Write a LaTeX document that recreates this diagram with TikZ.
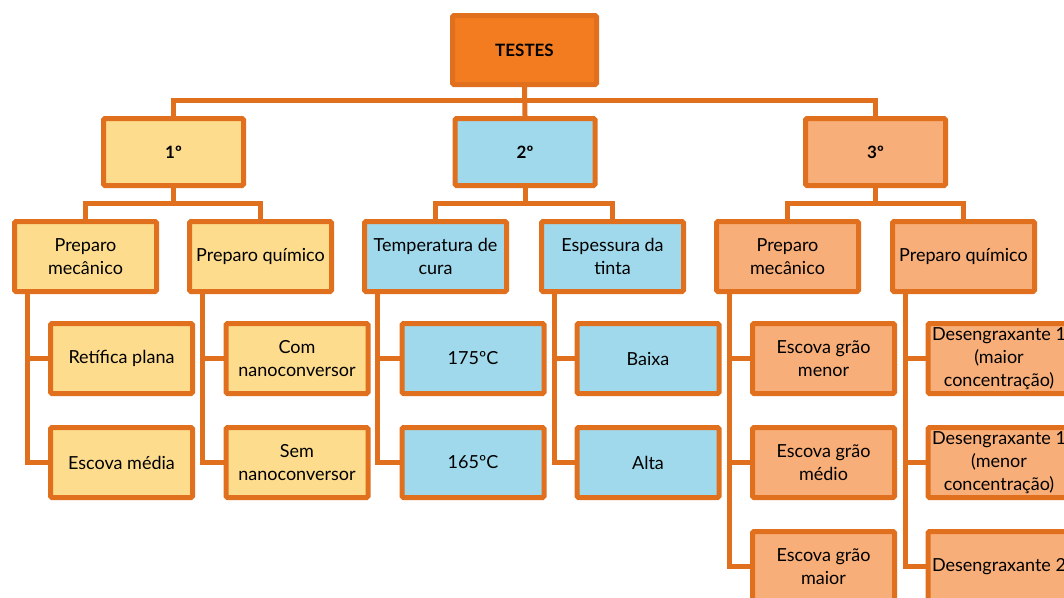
\documentclass[tikz,border=0pt]{standalone}
\usepackage{fontspec}
\setmainfont{Lato}
\usepackage{tikz}
\usetikzlibrary{positioning, calc}
\definecolor{lineOrange}{HTML}{E0701E}
\definecolor{rootOrange}{HTML}{F47C20}
\definecolor{paleYellow}{HTML}{FDDC8E}
\definecolor{paleBlue}{HTML}{A0D9EC}
\definecolor{paleSalmon}{HTML}{F8AE78}
\tikzset{
    box/.style={rectangle, draw=lineOrange, line width=5pt, rounded corners=1.5pt, align=center, inner sep=0pt, font=\fontsize{18}{23}\selectfont},
    rootbox/.style={box, fill=rootOrange, minimum width=144pt, minimum height=69pt, font=\fontsize{17}{23}\selectfont\bfseries},
    stage/.style={box, minimum width=140pt, minimum height=67pt, font=\fontsize{17}{23}\selectfont\bfseries},
    group/.style={box, minimum width=142pt, minimum height=70pt},
    leaf/.style={box, minimum width=142pt, minimum height=70pt},
    link/.style={draw=lineOrange, line width=5pt}
}
\begin{document}
\begin{tikzpicture}[x=1pt, y=-1pt]
        \useasboundingbox (0,0) rectangle (1064,597);

        \node[rootbox] (Testes) at (524.5,50) {TESTES};

        \node[stage, fill=paleYellow] (First) at (173.5,152) {1º};
        \node[stage, fill=paleBlue] (Second) at (525,152) {2º};
        \node[stage, fill=paleSalmon] (Third) at (875.5,152) {3º};

        \node[group, fill=paleYellow] (MecA) at (85.5,256.5) {Preparo\\mecânico};
        \node[group, fill=paleYellow] (QuimA) at (260.5,256.5) {Preparo químico};
        \node[group, fill=paleBlue] (Temp) at (435.5,256.5) {Temperatura de\\cura};
        \node[group, fill=paleBlue] (Espessura) at (612.5,256.5) {Espessura da\\tinta};
        \node[group, fill=paleSalmon] (MecC) at (787.5,256.5) {Preparo\\mecânico};
        \node[group, fill=paleSalmon] (QuimC) at (963.5,256.5) {Preparo químico};

        \node[leaf, fill=paleYellow] (Retifica) at (121.5,358.5) {Retífica plana};
        \node[leaf, fill=paleYellow, below=29pt of Retifica] (EscovaMedia) {Escova média};
        \node[leaf, fill=paleYellow] (ComNano) at (297,358.5) {Com\\nanoconversor};
        \node[leaf, fill=paleYellow, below=29pt of ComNano] (SemNano) {Sem\\nanoconversor};

        \node[leaf, fill=paleBlue] (TempAlta) at (473,358.5) {175ºC};
        \node[leaf, fill=paleBlue, below=29pt of TempAlta] (TempBaixa) {165ºC};
        \node[leaf, fill=paleBlue] (Baixa) at (648,358.5) {Baixa};
        \node[leaf, fill=paleBlue, below=29pt of Baixa] (Alta) {Alta};

        \node[leaf, fill=paleSalmon] (GraoMenor) at (823.5,358.5) {Escova grão\\menor};
        \node[leaf, fill=paleSalmon, below=29pt of GraoMenor] (GraoMedio) {Escova grão\\médio};
        \node[leaf, fill=paleSalmon, below=29pt of GraoMedio] (GraoMaior) {Escova grão\\maior};
        \node[leaf, fill=paleSalmon] (DesMaior) at (999,358.5) {Desengraxante 1\\(maior\\concentração)};
        \node[leaf, fill=paleSalmon, below=29pt of DesMaior] (DesMenor) {Desengraxante 1\\(menor\\concentração)};
        \node[leaf, fill=paleSalmon, below=29pt of DesMenor] (DesDois) {Desengraxante 2};

        % top bus
        \draw[link] (Testes.south) -- (Second.north);
        \draw[link] (First.north) -- ++(0,-16) -| (Third.north);

        % stage buses
        \draw[link] (First.south) -- ++(0,15) coordinate (BusA);
        \draw[link] (MecA.north) |- (BusA) -| (QuimA.north);
        \draw[link] (Second.south) -- ++(0,15) coordinate (BusB);
        \draw[link] (Temp.north) |- (BusB) -| (Espessura.north);
        \draw[link] (Third.south) -- ++(0,15) coordinate (BusC);
        \draw[link] (MecC.north) |- (BusC) -| (QuimC.north);

        % side spines
        \draw[link] ([xshift=15pt]MecA.south west) |- (Retifica.west);
        \draw[link] ([xshift=15pt]MecA.south west) |- (EscovaMedia.west);
        \draw[link] ([xshift=15pt]QuimA.south west) |- (ComNano.west);
        \draw[link] ([xshift=15pt]QuimA.south west) |- (SemNano.west);
        \draw[link] ([xshift=15pt]Temp.south west) |- (TempAlta.west);
        \draw[link] ([xshift=15pt]Temp.south west) |- (TempBaixa.west);
        \draw[link] ([xshift=15pt]Espessura.south west) |- (Baixa.west);
        \draw[link] ([xshift=15pt]Espessura.south west) |- (Alta.west);
        \draw[link] ([xshift=15pt]MecC.south west) |- (GraoMenor.west);
        \draw[link] ([xshift=15pt]MecC.south west) |- (GraoMedio.west);
        \draw[link] ([xshift=15pt]MecC.south west) |- (GraoMaior.west);
        \draw[link] ([xshift=15pt]QuimC.south west) |- (DesMaior.west);
        \draw[link] ([xshift=15pt]QuimC.south west) |- (DesMenor.west);
        \draw[link] ([xshift=15pt]QuimC.south west) |- (DesDois.west);
    \end{tikzpicture}
\end{document}
